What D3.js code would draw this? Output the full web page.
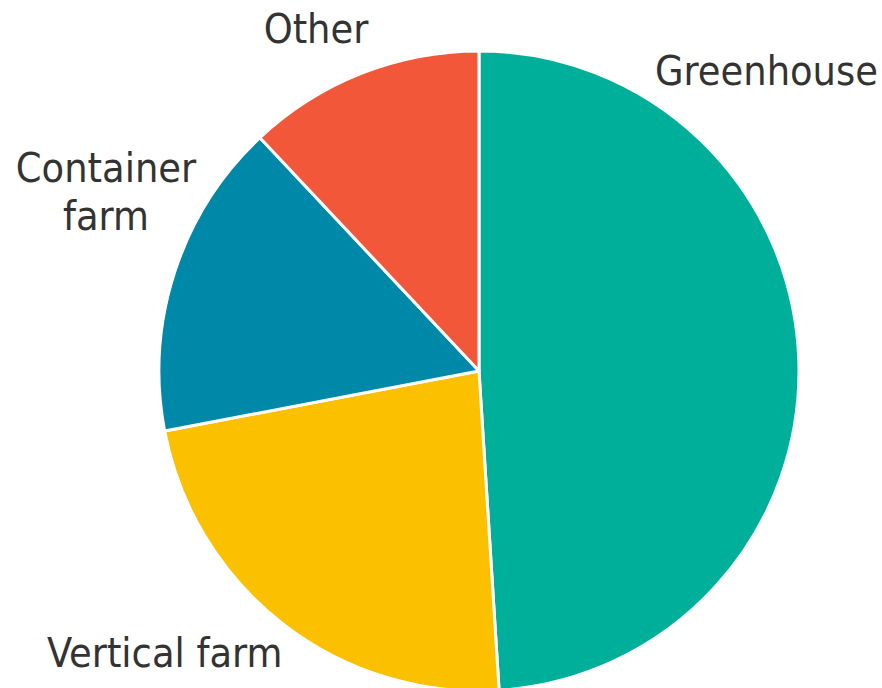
<!DOCTYPE html>
<html>
<head>
<meta charset="utf-8">
<script src="https://cdn.jsdelivr.net/npm/d3@7"></script>
<style>
    body { margin: 0; background: #fff; }
    .label { font-family: "DejaVu Sans Condensed", "DejaVu Sans", sans-serif; font-size: 41px; fill: #333; }
</style>
</head>
<body>
<div id="chart"></div>
<script>
const categories = ["Greenhouse", "Vertical farm", "Container farm", "Other"];
const shares = [49, 23, 16, 12];
const colours = ["#00af9a", "#fbc000", "#0088a8", "#f2573a"];

const width = 882, height = 688;
const cx = 479, cy = 371, radius = 320;

const svg = d3.select("#chart").append("svg")
    .attr("width", width)
    .attr("height", height);

const g = svg.append("g")
    .attr("transform", `translate(${cx}, ${cy})`);

const data = categories.map((c, i) => ({name: c, value: shares[i]}));

const pie = d3.pie()
    .value(d => d.value)
    .sort(null);

const arc = d3.arc()
    .innerRadius(0)
    .outerRadius(radius);

const colour = d3.scaleOrdinal()
    .domain(categories)
    .range(colours);

g.selectAll(".slice")
    .data(pie(data))
    .join("path")
    .attr("class", "slice")
    .attr("d", arc)
    .attr("fill", d => colour(d.data.name))
    .attr("stroke", "#fff")
    .attr("stroke-width", 3)
    .attr("stroke-linejoin", "round");

// label placement (page coordinates, multi-line labels split into tspans)
const labelPos = {
    "Greenhouse": {x: 655, y: 85, anchor: "start"},
    "Vertical farm": {x: 47, y: 667, anchor: "start"},
    "Container farm": {x: 106, y: 182, anchor: "middle", text: ["Container", "farm"]},
    "Other": {x: 316, y: 43, anchor: "middle"}
};

categories.forEach(c => {
    const p = labelPos[c];
    const lines = p.text || [c];
    const t = svg.append("text")
        .attr("class", "label")
        .attr("text-anchor", p.anchor)
        .attr("x", p.x)
        .attr("y", p.y);
    lines.forEach((l, i) => {
        t.append("tspan")
            .attr("x", p.x)
            .attr("dy", i === 0 ? 0 : 48)
            .text(l);
    });
});
</script>
</body>
</html>
